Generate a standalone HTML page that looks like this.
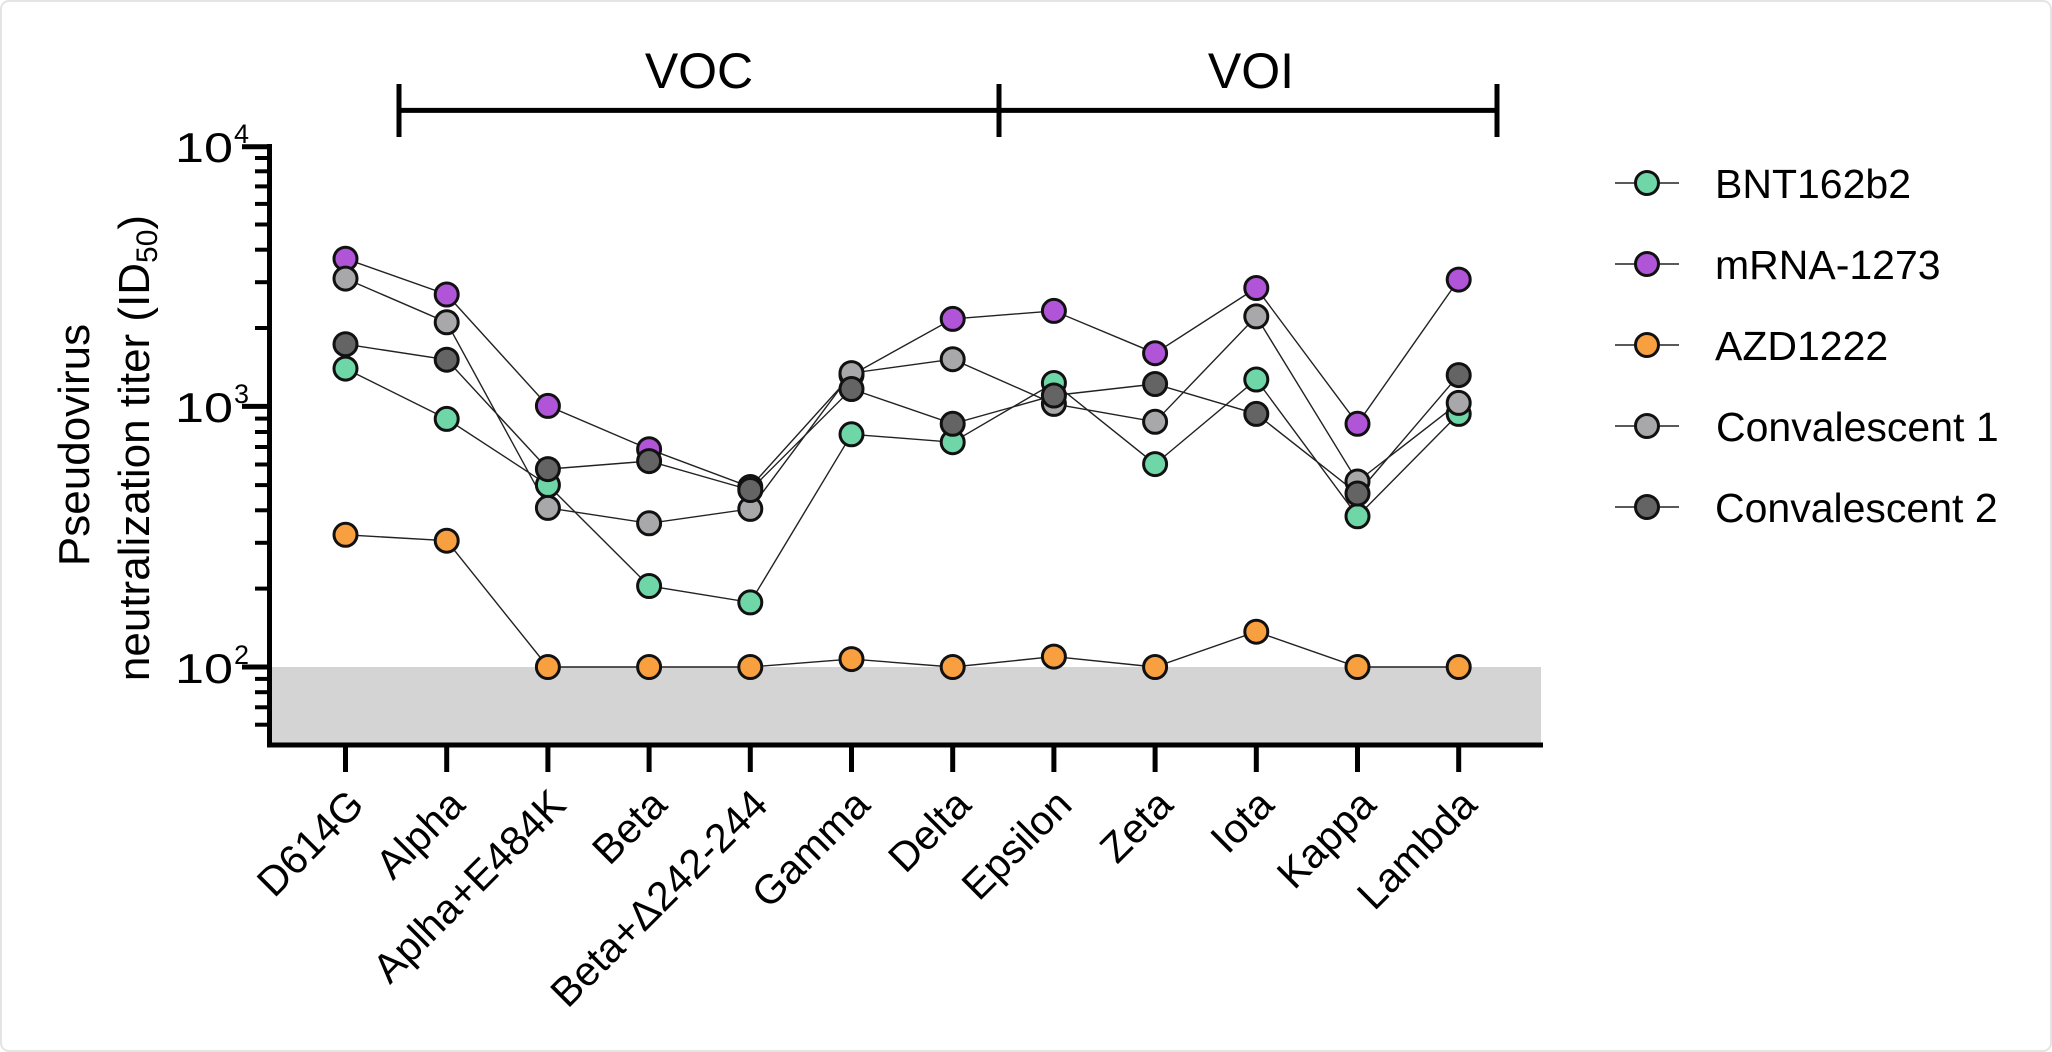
<!DOCTYPE html>
<html><head><meta charset="utf-8"><style>
html,body{margin:0;padding:0;background:#fff}
svg{display:block}
text{font-family:"Liberation Sans",Arial,sans-serif;fill:#000}
</style></head><body>
<svg width="2052" height="1052" viewBox="0 0 2052 1052" xmlns="http://www.w3.org/2000/svg">
<rect x="1" y="1" width="2050" height="1050" rx="8" fill="#fff" stroke="#e4e4e4" stroke-width="2"/>
<rect x="270" y="667" width="1271" height="78" fill="#d4d4d4"/>
<g stroke="#000" stroke-width="5">
<line x1="269.5" y1="144" x2="269.5" y2="747"/>
<line x1="242" y1="146.7" x2="270" y2="146.7"/>
<line x1="242" y1="406.4" x2="270" y2="406.4"/>
<line x1="242" y1="667" x2="270" y2="667"/>
</g>
<g stroke="#000" stroke-width="4">
<line x1="255" x2="270" y1="158" y2="158"/><line x1="255" x2="270" y1="171.3" y2="171.3"/><line x1="255" x2="270" y1="186.4" y2="186.4"/><line x1="255" x2="270" y1="203.9" y2="203.9"/><line x1="255" x2="270" y1="224.5" y2="224.5"/><line x1="255" x2="270" y1="249.7" y2="249.7"/><line x1="255" x2="270" y1="282.2" y2="282.2"/><line x1="255" x2="270" y1="328" y2="328"/>
<line x1="255" x2="270" y1="418.6" y2="418.6"/><line x1="255" x2="270" y1="432" y2="432"/><line x1="255" x2="270" y1="447" y2="447"/><line x1="255" x2="270" y1="464.5" y2="464.5"/><line x1="255" x2="270" y1="485.1" y2="485.1"/><line x1="255" x2="270" y1="510.3" y2="510.3"/><line x1="255" x2="270" y1="542.8" y2="542.8"/><line x1="255" x2="270" y1="588.6" y2="588.6"/>
<line x1="255" x2="270" y1="678.9" y2="678.9"/><line x1="255" x2="270" y1="692.2" y2="692.2"/><line x1="255" x2="270" y1="707.3" y2="707.3"/><line x1="255" x2="270" y1="724.7" y2="724.7"/>
</g>
<g stroke="#000" stroke-width="5">
<line x1="267" y1="745" x2="1543" y2="745"/>
<line x1="345.5" y1="745" x2="345.5" y2="772"/><line x1="446.7" y1="745" x2="446.7" y2="772"/><line x1="547.9" y1="745" x2="547.9" y2="772"/><line x1="649.1" y1="745" x2="649.1" y2="772"/><line x1="750.3" y1="745" x2="750.3" y2="772"/><line x1="851.5" y1="745" x2="851.5" y2="772"/><line x1="952.7" y1="745" x2="952.7" y2="772"/><line x1="1053.9" y1="745" x2="1053.9" y2="772"/><line x1="1155.1" y1="745" x2="1155.1" y2="772"/><line x1="1256.3" y1="745" x2="1256.3" y2="772"/><line x1="1357.5" y1="745" x2="1357.5" y2="772"/><line x1="1458.7" y1="745" x2="1458.7" y2="772"/>
</g>
<g font-size="42" text-anchor="end">
<text x="233" y="162" textLength="58" lengthAdjust="spacingAndGlyphs">10</text><text x="234" y="143" font-size="27" text-anchor="start">4</text>
<text x="233" y="422" textLength="58" lengthAdjust="spacingAndGlyphs">10</text><text x="234" y="403" font-size="27" text-anchor="start">3</text>
<text x="233" y="683" textLength="58" lengthAdjust="spacingAndGlyphs">10</text><text x="234" y="664" font-size="27" text-anchor="start">2</text>
</g>
<g font-size="44" text-anchor="middle">
<text transform="translate(89,445) rotate(-90)">Pseudovirus</text>
<text transform="translate(149,448) rotate(-90)">neutralization titer (ID<tspan font-size="30" dy="8">50</tspan><tspan dy="-8">)</tspan></text>
</g>
<g font-size="41" text-anchor="end">
<text transform="translate(366,807) rotate(-45)">D614G</text>
<text transform="translate(467,807) rotate(-45)">Alpha</text>
<text transform="translate(568,807) rotate(-45)">Aplha+E484K</text>
<text transform="translate(669,807) rotate(-45)">Beta</text>
<text transform="translate(770,807) rotate(-45)">Beta+Δ242-244</text>
<text transform="translate(872,807) rotate(-45)">Gamma</text>
<text transform="translate(973,807) rotate(-45)">Delta</text>
<text transform="translate(1074,807) rotate(-45)">Epsilon</text>
<text transform="translate(1175,807) rotate(-45)">Zeta</text>
<text transform="translate(1276,807) rotate(-45)">Iota</text>
<text transform="translate(1378,807) rotate(-45)">Kappa</text>
<text transform="translate(1479,807) rotate(-45)">Lambda</text>
</g>
<g stroke="#000" stroke-width="5">
<line x1="399" y1="110.4" x2="1497" y2="110.4"/>
<line x1="399" y1="84" x2="399" y2="137"/>
<line x1="999" y1="84" x2="999" y2="137"/>
<line x1="1497" y1="84" x2="1497" y2="137"/>
</g>
<text x="699" y="88" font-size="50" text-anchor="middle">VOC</text>
<text x="1251" y="88" font-size="50" text-anchor="middle">VOI</text>
<g fill="none" stroke="#222" stroke-width="1.4">
<polyline points="345.5,368.6 446.7,418.9 547.9,485 649.1,586 750.3,602.4 851.5,434.3 952.7,442.2 1053.9,383 1155.1,464.1 1256.3,379.5 1357.5,516.3 1458.7,413.9"/>
<polyline points="345.5,258.7 446.7,294.5 547.9,405.9 649.1,449.2 750.3,487 851.5,375 952.7,318.9 1053.9,310.9 1155.1,353.2 1256.3,288 1357.5,423.8 1458.7,279.6"/>
<polyline points="345.5,534.8 446.7,540.7 547.9,667 649.1,667 750.3,667 851.5,659.1 952.7,667 1053.9,656.6 1155.1,667 1256.3,631.7 1357.5,667 1458.7,667"/>
<polyline points="345.5,278.6 446.7,322.3 547.9,507.9 649.1,523.3 750.3,508.9 851.5,373.1 952.7,359.2 1053.9,403.9 1155.1,421.8 1256.3,316.4 1357.5,481.5 1458.7,402.9"/>
<polyline points="345.5,344.2 446.7,359.7 547.9,469.1 649.1,461.1 750.3,490 851.5,389 952.7,423.8 1053.9,395.5 1155.1,384 1256.3,413.9 1357.5,493.5 1458.7,375.1"/>
</g>
<g stroke="#111" stroke-width="3">
<g fill="#6fd6a8">
<circle cx="345.5" cy="368.6" r="11.5"/><circle cx="446.7" cy="418.9" r="11.5"/><circle cx="547.9" cy="485" r="11.5"/><circle cx="649.1" cy="586" r="11.5"/><circle cx="750.3" cy="602.4" r="11.5"/><circle cx="851.5" cy="434.3" r="11.5"/><circle cx="952.7" cy="442.2" r="11.5"/><circle cx="1053.9" cy="383" r="11.5"/><circle cx="1155.1" cy="464.1" r="11.5"/><circle cx="1256.3" cy="379.5" r="11.5"/><circle cx="1357.5" cy="516.3" r="11.5"/><circle cx="1458.7" cy="413.9" r="11.5"/>
</g>
<g fill="#b054d8">
<circle cx="345.5" cy="258.7" r="11.5"/><circle cx="446.7" cy="294.5" r="11.5"/><circle cx="547.9" cy="405.9" r="11.5"/><circle cx="649.1" cy="449.2" r="11.5"/><circle cx="750.3" cy="487" r="11.5"/><circle cx="851.5" cy="375" r="11.5"/><circle cx="952.7" cy="318.9" r="11.5"/><circle cx="1053.9" cy="310.9" r="11.5"/><circle cx="1155.1" cy="353.2" r="11.5"/><circle cx="1256.3" cy="288" r="11.5"/><circle cx="1357.5" cy="423.8" r="11.5"/><circle cx="1458.7" cy="279.6" r="11.5"/>
</g>
<g fill="#f8a040">
<circle cx="345.5" cy="534.8" r="11.5"/><circle cx="446.7" cy="540.7" r="11.5"/><circle cx="547.9" cy="667" r="11.5"/><circle cx="649.1" cy="667" r="11.5"/><circle cx="750.3" cy="667" r="11.5"/><circle cx="851.5" cy="659.1" r="11.5"/><circle cx="952.7" cy="667" r="11.5"/><circle cx="1053.9" cy="656.6" r="11.5"/><circle cx="1155.1" cy="667" r="11.5"/><circle cx="1256.3" cy="631.7" r="11.5"/><circle cx="1357.5" cy="667" r="11.5"/><circle cx="1458.7" cy="667" r="11.5"/>
</g>
<g fill="#a8a8aa">
<circle cx="345.5" cy="278.6" r="11.5"/><circle cx="446.7" cy="322.3" r="11.5"/><circle cx="547.9" cy="507.9" r="11.5"/><circle cx="649.1" cy="523.3" r="11.5"/><circle cx="750.3" cy="508.9" r="11.5"/><circle cx="851.5" cy="373.1" r="11.5"/><circle cx="952.7" cy="359.2" r="11.5"/><circle cx="1053.9" cy="403.9" r="11.5"/><circle cx="1155.1" cy="421.8" r="11.5"/><circle cx="1256.3" cy="316.4" r="11.5"/><circle cx="1357.5" cy="481.5" r="11.5"/><circle cx="1458.7" cy="402.9" r="11.5"/>
</g>
<g fill="#646464">
<circle cx="345.5" cy="344.2" r="11.5"/><circle cx="446.7" cy="359.7" r="11.5"/><circle cx="547.9" cy="469.1" r="11.5"/><circle cx="649.1" cy="461.1" r="11.5"/><circle cx="750.3" cy="490" r="11.5"/><circle cx="851.5" cy="389" r="11.5"/><circle cx="952.7" cy="423.8" r="11.5"/><circle cx="1053.9" cy="395.5" r="11.5"/><circle cx="1155.1" cy="384" r="11.5"/><circle cx="1256.3" cy="413.9" r="11.5"/><circle cx="1357.5" cy="493.5" r="11.5"/><circle cx="1458.7" cy="375.1" r="11.5"/>
</g>
</g>
<g stroke="#222" stroke-width="1.6">
<line x1="1615" x2="1679" y1="183" y2="183"/><line x1="1615" x2="1679" y1="264" y2="264"/><line x1="1615" x2="1679" y1="345" y2="345"/><line x1="1615" x2="1679" y1="426" y2="426"/><line x1="1615" x2="1679" y1="507" y2="507"/>
</g>
<g stroke="#111" stroke-width="3">
<circle cx="1647" cy="183" r="11.5" fill="#6fd6a8"/>
<circle cx="1647" cy="264" r="11.5" fill="#b054d8"/>
<circle cx="1647" cy="345" r="11.5" fill="#f8a040"/>
<circle cx="1647" cy="426" r="11.5" fill="#a8a8aa"/>
<circle cx="1647" cy="507" r="11.5" fill="#646464"/>
</g>
<g font-size="41">
<text x="1715" y="198">BNT162b2</text>
<text x="1715" y="279">mRNA-1273</text>
<text x="1715" y="360">AZD1222</text>
<text x="1716" y="441">Convalescent 1</text>
<text x="1715" y="522">Convalescent 2</text>
</g>
</svg>
</body></html>
